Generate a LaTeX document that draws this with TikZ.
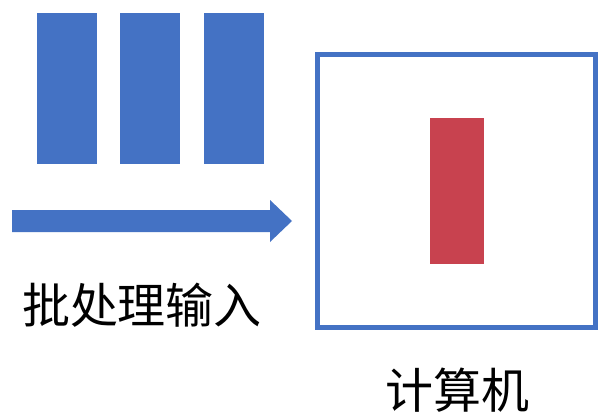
\documentclass[tikz,border=0pt]{standalone}
\usepackage{fontspec}
\newfontfamily\cjk{Noto Sans CJK SC}
\definecolor{boxblue}{HTML}{4472C4}
\definecolor{barred}{HTML}{C8424F}
\begin{document}
\begin{tikzpicture}[x=1pt,y=-1pt,
  bar/.style={fill=boxblue,draw=none},
  label/.style={font=\cjk\fontsize{48}{52}\selectfont,text=black,inner sep=0pt}]
\useasboundingbox[fill=white] (0,0) rectangle (600,417);
% batch jobs
\fill[bar] (37,13) rectangle (97,164);
\fill[bar] (120,13) rectangle (180,164);
\fill[bar] (204,13) rectangle (264,164);
% block arrow
\fill[boxblue] (12,210) -- (270,210) -- (270,200) -- (292,221) -- (270,242) -- (270,232) -- (12,232) -- cycle;
\node[label] (input) at (142,305) {批处理输入};
% computer
\node[draw=boxblue,line width=5pt,minimum width=278pt,minimum height=273pt,inner sep=0pt] (computer) at (456.5,191) {};
\fill[barred] (430,118) rectangle (484,264);
\node[label] (clabel) at (457,390) {计算机};
\end{tikzpicture}
\end{document}
